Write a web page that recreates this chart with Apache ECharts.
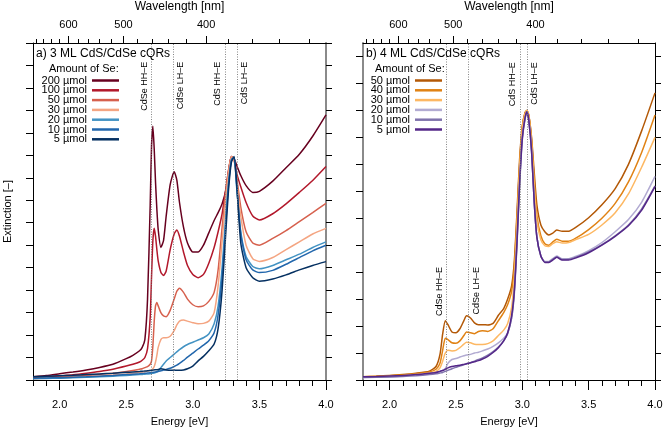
<!DOCTYPE html>
<html>
<head>
<meta charset="utf-8">
<script src="https://cdn.jsdelivr.net/npm/echarts@6/dist/echarts.min.js"></script>
<style>
  html, body { margin: 0; padding: 0; background: #fff; }
  #chart { width: 664px; height: 428px; }
</style>
</head>
<body>
<div id="chart"></div>
<script>
const HC = 1239.84; // eV * nm

// tick positions
const energyMajor = [2.0, 2.5, 3.0, 3.5, 4.0];
const energyMinor = [1.8, 1.9, 2.0, 2.1, 2.2, 2.3, 2.4, 2.5, 2.6, 2.7, 2.8, 2.9, 3.0, 3.1, 3.2, 3.3, 3.4, 3.5, 3.6, 3.7, 3.8, 3.9, 4.0];
const waveMajor = [600, 500, 400];
const waveMinor = [680, 660, 640, 620, 600, 580, 560, 540, 520, 500, 480, 460, 440, 420, 400, 380, 360, 340, 320];
const yTicksA = [0, 1, 2, 3, 4, 5, 6, 7, 8, 9, 10, 11, 12, 13, 14, 15];
const yTicksB = [0, 1, 2, 3, 4, 5, 6, 7, 8, 9, 10, 11, 12];

// exciton energies (eV)
const excitonNames = ['CdSe HH–E', 'CdSe LH–E', 'CdS HH–E', 'CdS LH–E'];
const excitonA = [2.69, 2.855, 3.245, 3.33];
const excitonB = [2.43, 2.595, 2.984, 3.037];

// ---- panel a: 3 ML ----
const namesA = ['200 µmol', '100 µmol', '50 µmol', '30 µmol', '20 µmol', '10 µmol', '5 µmol'];
const energyA = [1.8, 1.9, 2.0, 2.1, 2.2, 2.3, 2.4, 2.5, 2.55, 2.6,
  2.62, 2.64, 2.66, 2.68, 2.69, 2.70, 2.71, 2.72, 2.73, 2.74,
  2.76, 2.78, 2.80, 2.83, 2.86, 2.88, 2.90, 2.93, 2.96, 3.0,
  3.04, 3.08, 3.12, 3.16, 3.19, 3.22, 3.25, 3.27, 3.29, 3.31,
  3.33, 3.36, 3.40, 3.45, 3.5, 3.6, 3.7, 3.8, 3.9, 4.0];
const a200 = [0.15, 0.2, 0.28, 0.36, 0.45, 0.56, 0.7, 0.95, 1.1, 1.3,
  1.45, 1.8, 3.6, 7.8, 10.4, 11.3, 10.3, 8.8, 7.6, 6.7,
  5.9, 6.2, 7.3, 8.7, 9.27, 8.9, 7.9, 6.8, 6.1, 5.7,
  5.7, 6.0, 6.55, 7.1, 7.45, 7.85, 8.5, 9.3, 9.95, 9.85,
  9.55, 9.1, 8.65, 8.35, 8.4, 8.85, 9.45, 10.05, 10.85, 11.8];
const a100 = [0.1, 0.13, 0.18, 0.23, 0.3, 0.38, 0.48, 0.62, 0.7, 0.8,
  0.88, 1.0, 1.4, 2.8, 4.6, 6.2, 6.75, 6.4, 5.8, 5.3,
  4.8, 4.65, 4.85, 5.8, 6.5, 6.68, 6.4, 5.7, 5.1, 4.7,
  4.55, 4.7, 5.2, 5.9, 6.6, 7.4, 8.6, 9.4, 9.95, 9.8,
  9.2, 8.6, 7.9, 7.3, 7.12, 7.4, 7.84, 8.35, 8.88, 9.5];
const a50 = [0.08, 0.1, 0.13, 0.16, 0.2, 0.25, 0.3, 0.38, 0.42, 0.48,
  0.5, 0.55, 0.6, 0.7, 0.85, 1.5, 2.6, 3.3, 3.45, 3.3,
  3.0, 2.85, 2.82, 3.1, 3.6, 3.95, 4.08, 3.9, 3.6, 3.35,
  3.26, 3.3, 3.5, 3.9, 4.9, 6.8, 8.5, 9.4, 9.95, 9.8,
  9.0, 7.7, 6.6, 6.1, 6.0, 6.3, 6.65, 7.05, 7.45, 7.86];
const a30 = [0.06, 0.08, 0.1, 0.12, 0.15, 0.18, 0.22, 0.27, 0.3, 0.33,
  0.35, 0.37, 0.4, 0.43, 0.45, 0.5, 0.6, 0.8, 1.1, 1.45,
  1.8, 1.88, 1.88, 1.95, 2.2, 2.45, 2.62, 2.67, 2.62, 2.55,
  2.5, 2.52, 2.62, 3.0, 4.2, 6.2, 8.2, 9.3, 9.95, 9.8,
  8.8, 7.3, 6.0, 5.4, 5.28, 5.45, 5.8, 6.15, 6.5, 6.75];
const a20 = [0.06, 0.07, 0.08, 0.1, 0.12, 0.14, 0.17, 0.2, 0.22, 0.24,
  0.25, 0.26, 0.27, 0.28, 0.29, 0.3, 0.31, 0.33, 0.36, 0.4,
  0.55, 0.7, 0.85, 1.0, 1.15, 1.25, 1.35, 1.48, 1.58, 1.68,
  1.78, 1.88, 2.05, 2.5, 3.3, 5.0, 7.5, 8.9, 9.8, 9.9,
  8.5, 6.6, 5.5, 5.05, 4.95, 5.1, 5.35, 5.6, 5.9, 6.15];
const a10 = [0.08, 0.09, 0.1, 0.12, 0.14, 0.17, 0.2, 0.24, 0.26, 0.28,
  0.29, 0.3, 0.31, 0.32, 0.33, 0.34, 0.35, 0.36, 0.37, 0.38,
  0.41, 0.44, 0.47, 0.52, 0.6, 0.66, 0.74, 0.87, 1.02, 1.2,
  1.38, 1.55, 1.75, 2.1, 2.9, 4.6, 7.2, 8.8, 9.8, 9.9,
  8.6, 6.5, 5.35, 4.9, 4.78, 4.88, 5.15, 5.45, 5.75, 6.0];
const a5 = [0.15, 0.17, 0.19, 0.21, 0.24, 0.27, 0.3, 0.34, 0.36, 0.38,
  0.39, 0.4, 0.41, 0.42, 0.43, 0.44, 0.45, 0.46, 0.46, 0.47,
  0.5, 0.48, 0.45, 0.43, 0.44, 0.43, 0.43, 0.45, 0.5, 0.62,
  0.85, 1.05, 1.3, 1.6, 2.3, 4.0, 6.8, 8.6, 9.7, 9.95,
  8.7, 6.1, 5.0, 4.55, 4.4, 4.5, 4.68, 4.9, 5.1, 5.27];

// ---- panel b: 4 ML ----
const namesB = ['50 µmol', '40 µmol', '30 µmol', '20 µmol', '10 µmol', '5 µmol'];
const energyB = [1.8, 1.9, 2.0, 2.1, 2.2, 2.3, 2.35, 2.38, 2.40, 2.42,
  2.44, 2.47, 2.50, 2.53, 2.56, 2.58, 2.61, 2.64, 2.67, 2.70,
  2.74, 2.78, 2.82, 2.86, 2.89, 2.92, 2.94, 2.96, 2.98, 3.00,
  3.02, 3.035, 3.05, 3.07, 3.09, 3.11, 3.14, 3.17, 3.20, 3.23,
  3.26, 3.30, 3.35, 3.4, 3.5, 3.6, 3.7, 3.8, 3.9, 4.0];
const b50 = [0.12, 0.14, 0.17, 0.2, 0.25, 0.33, 0.5, 0.95, 1.7, 2.2,
  2.05, 1.78, 1.75, 1.9, 2.2, 2.38, 2.3, 2.12, 2.05, 2.05,
  2.04, 2.1, 2.4, 2.65, 3.0, 3.5, 4.4, 6.2, 8.2, 9.4,
  9.9, 10.0, 9.8, 9.0, 7.7, 6.5, 5.75, 5.5, 5.38, 5.45,
  5.56, 5.52, 5.52, 5.65, 6.02, 6.5, 7.1, 8.0, 9.25, 10.65];
const b40 = [0.12, 0.14, 0.16, 0.19, 0.23, 0.3, 0.4, 0.62, 1.1, 1.55,
  1.5, 1.38, 1.36, 1.45, 1.65, 1.78, 1.75, 1.72, 1.8, 1.83,
  1.8, 1.9, 2.2, 2.5, 2.8, 3.3, 4.2, 6.0, 8.0, 9.4,
  9.9, 10.0, 9.8, 8.9, 7.4, 6.1, 5.35, 5.05, 5.0, 5.12,
  5.22, 5.15, 5.15, 5.25, 5.58, 6.0, 6.55, 7.35, 8.45, 9.83];
const b30 = [0.1, 0.12, 0.14, 0.16, 0.2, 0.26, 0.32, 0.45, 0.7, 1.0,
  1.1, 1.08, 1.1, 1.2, 1.33, 1.4, 1.38, 1.33, 1.32, 1.32,
  1.35, 1.45, 1.65, 1.85, 2.1, 2.7, 3.8, 5.7, 7.8, 9.3,
  9.85, 10.0, 9.75, 8.8, 7.2, 5.9, 5.2, 4.98, 4.95, 5.06,
  5.13, 5.08, 5.1, 5.2, 5.4, 5.75, 6.2, 6.9, 7.9, 9.0];
const b20 = [0.08, 0.1, 0.12, 0.15, 0.19, 0.24, 0.28, 0.32, 0.36, 0.42,
  0.62, 0.76, 0.8, 0.85, 0.9, 0.93, 0.95, 1.0, 1.03, 1.08,
  1.15, 1.25, 1.38, 1.55, 1.75, 2.3, 3.3, 5.2, 7.4, 9.0,
  9.7, 9.95, 9.6, 8.5, 6.6, 5.3, 4.6, 4.4, 4.4, 4.5,
  4.6, 4.5, 4.5, 4.58, 4.8, 5.1, 5.5, 5.95, 6.6, 7.55];
const b10 = [0.1, 0.1, 0.11, 0.13, 0.16, 0.2, 0.23, 0.26, 0.28, 0.32,
  0.36, 0.42, 0.47, 0.52, 0.56, 0.6, 0.64, 0.7, 0.76, 0.82,
  0.92, 1.05, 1.22, 1.45, 1.72, 2.3, 3.2, 5.0, 7.2, 8.9,
  9.65, 9.95, 9.6, 8.5, 6.6, 5.3, 4.6, 4.38, 4.38, 4.48,
  4.56, 4.47, 4.48, 4.55, 4.75, 5.02, 5.35, 5.75, 6.35, 7.2];
const b5 = [0.12, 0.13, 0.15, 0.17, 0.2, 0.25, 0.28, 0.32, 0.35, 0.4,
  0.45, 0.5, 0.53, 0.55, 0.58, 0.6, 0.64, 0.68, 0.72, 0.78,
  0.88, 1.02, 1.2, 1.45, 1.75, 2.4, 3.3, 5.1, 7.3, 8.95,
  9.7, 9.95, 9.6, 8.5, 6.6, 5.3, 4.6, 4.36, 4.36, 4.45,
  4.55, 4.45, 4.45, 4.52, 4.72, 5.0, 5.33, 5.72, 6.3, 7.17];

const valuesA = [a200, a100, a50, a30, a20, a10, a5];
const valuesB = [b50, b40, b30, b20, b10, b5];
const colorsA = ['#67001f', '#b2182b', '#d6604d', '#f4a582', '#4393c3', '#2166ac', '#053061'];
const colorsB = ['#b35806', '#e08214', '#fdb863', '#b2abd2', '#8073ac', '#542788'];

const FONT = 'Liberation Sans, Arial, sans-serif';
const chart = echarts.init(document.getElementById('chart'), null, { renderer: 'canvas' });

function xAxes(g) {
  const base = { type: 'value', gridIndex: g, min: 1.8, max: 4.0, splitLine: { show: false } };
  const line = { show: true, onZero: false, lineStyle: { color: '#000', width: 1 } };
  return [
    Object.assign({}, base, {
      position: 'bottom', axisLine: line,
      axisTick: { show: true, length: 10, customValues: energyMajor, lineStyle: { color: '#000' } },
      axisLabel: { customValues: energyMajor, formatter: v => v.toFixed(1), fontSize: 11, color: '#000', fontFamily: FONT, margin: 19 },
      name: 'Energy [eV]', nameLocation: 'middle', nameGap: 36,
      nameTextStyle: { fontSize: 11, color: '#000', fontFamily: FONT }
    }),
    Object.assign({}, base, {
      position: 'bottom', axisLine: { show: false, onZero: false },
      axisTick: { show: true, length: 6, customValues: energyMinor, lineStyle: { color: '#000' } },
      axisLabel: { show: false }
    }),
    Object.assign({}, base, {
      position: 'top', axisLine: line,
      axisTick: { show: true, length: 7, customValues: waveMajor.map(w => HC / w), lineStyle: { color: '#000' } },
      axisLabel: { customValues: waveMajor.map(w => HC / w), formatter: v => Math.round(HC / v), fontSize: 11, color: '#000', fontFamily: FONT, margin: 13 },
      name: 'Wavelength [nm]', nameLocation: 'middle', nameGap: 30,
      nameTextStyle: { fontSize: 12, color: '#000', fontFamily: FONT }
    }),
    Object.assign({}, base, {
      position: 'top', axisLine: { show: false, onZero: false },
      axisTick: { show: true, length: 4, customValues: waveMinor.map(w => HC / w), lineStyle: { color: '#000' } },
      axisLabel: { show: false }
    })
  ];
}

function yAxes(g, max, ticks, leftColor, rightColor, withName) {
  const mk = (pos, color, len) => ({
    type: 'value', gridIndex: g, position: pos, min: 0, max: max,
    splitLine: { show: false },
    axisLine: { show: true, onZero: false, lineStyle: { color: color, width: color === '#000' ? 1 : 2 } },
    axisTick: { show: true, length: len, customValues: ticks, lineStyle: { color: '#000' } },
    axisLabel: { show: false }
  });
  const left = mk('left', leftColor, 7);
  if (withName) {
    left.name = 'Extinction [–]';
    left.nameLocation = 'middle';
    left.nameGap = 20;
    left.nameTextStyle = { fontSize: 11, color: '#000', fontFamily: FONT };
  }
  return [left, mk('right', rightColor, 6)];
}

// HH labels sit left of their line, LH labels right of it
function excitonLines(energies, yMax, labelTops) {
  const data = [];
  energies.forEach((e, i) => {
    data.push([{ coord: [e, 0] }, { coord: [e, yMax] }]);
    data.push([
      { coord: [e, 0], name: excitonNames[i],
        lineStyle: { color: 'rgba(0,0,0,0)' },
        label: { show: true, formatter: '{b}', position: i % 2 === 0 ? 'insideEndTop' : 'insideEndBottom',
          distance: 3, fontSize: 9, color: '#000', fontFamily: FONT } },
      { coord: [e, labelTops[i]] }
    ]);
  });
  return {
    silent: true, symbol: ['none', 'none'], animation: false,
    lineStyle: { type: [1, 1.5], color: '#777', width: 0.9 },
    label: { show: false },
    data: data
  };
}

function makeSeries(g, names, energies, values, colors, mark) {
  return names.map((name, k) => {
    const s = {
      name: name, type: 'line', xAxisIndex: g * 4, yAxisIndex: g * 2,
      data: energies.map((e, i) => [e, values[k][i]]),
      showSymbol: false, symbol: 'none', smooth: 0.2, silent: true,
      lineStyle: { color: colors[k], width: 1.5 }, itemStyle: { color: colors[k] }
    };
    if (k === 0) s.markLine = mark;
    return s;
  });
}

function legendData(names, colors) {
  return names.map((n, k) => ({ name: n, itemStyle: { color: colors[k] }, lineStyle: { color: colors[k] } }));
}

const legendBase = {
  orient: 'vertical', icon: 'rect', itemWidth: 27, itemHeight: 2.5, itemGap: -1.2,
  align: 'right', selectedMode: false, padding: 0,
  textStyle: { fontSize: 11, color: '#000', fontFamily: FONT, lineHeight: 10 }
};

const option = {
  animation: false,
  backgroundColor: '#fff',
  textStyle: { fontFamily: FONT },
  title: [
    { text: 'a) 3 ML CdS/CdSe cQRs', left: 36, top: 48, padding: 0, textStyle: { fontSize: 12, fontWeight: 'normal', color: '#000', fontFamily: FONT } },
    { text: 'Amount of Se:', left: 49, top: 63, padding: 0, textStyle: { fontSize: 11, fontWeight: 'normal', color: '#000', fontFamily: FONT } },
    { text: 'b) 4 ML CdS/CdSe cQRs', left: 366, top: 48, padding: 0, textStyle: { fontSize: 12, fontWeight: 'normal', color: '#000', fontFamily: FONT } },
    { text: 'Amount of Se:', left: 375, top: 63, padding: 0, textStyle: { fontSize: 11, fontWeight: 'normal', color: '#000', fontFamily: FONT } }
  ],
  legend: [
    Object.assign({}, legendBase, { data: legendData(namesA, colorsA), right: 545, top: 75 }),
    Object.assign({}, legendBase, { data: legendData(namesB, colorsB), right: 222, top: 75 })
  ],
  grid: [
    { left: 33, right: 338, top: 43, bottom: 48, outerBoundsMode: 'none', containLabel: false },
    { left: 363, right: 9, top: 43, bottom: 48, outerBoundsMode: 'none', containLabel: false }
  ],
  xAxis: xAxes(0).concat(xAxes(1)),
  yAxis: yAxes(0, 15, yTicksA, '#000', '#8a8a8a', true).concat(yAxes(1, 12.5, yTicksB, '#8a8a8a', '#000', false)),
  series: makeSeries(0, namesA, energyA, valuesA, colorsA, excitonLines(excitonA, 15, [14.3, 14.3, 14.3, 14.3]))
    .concat(makeSeries(1, namesB, energyB, valuesB, colorsB, excitonLines(excitonB, 12.5, [4.3, 4.3, 11.9, 11.9])))
};

chart.setOption(option);
</script>
</body>
</html>
